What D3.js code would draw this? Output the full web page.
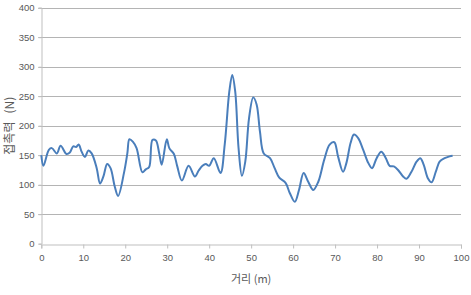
<!DOCTYPE html>
<html>
<head>
<meta charset="utf-8">
<script src="https://cdn.jsdelivr.net/npm/d3@7"></script>
<style>
  body { margin: 0; background: #fff; }
  svg text { fill: #595959; }
</style>
</head>
<body>
<svg id="chart" width="471" height="295"></svg>
<script>
'use strict';

// distance (m) and contact force (N)
const distance = [0, 0.5, 1.8, 2.5, 3.7, 4.6, 6.0, 6.8, 7.6, 8.3, 8.9, 9.6, 10.4, 11.2, 12.0,
  13.2, 14.0, 14.8, 15.7, 16.5, 17.5, 18.3, 19.7, 20.5, 21.0, 21.8, 22.7, 24.1, 24.9, 25.7,
  26.5, 27.3, 28.1, 28.7, 29.9, 30.5, 31.6, 32.4, 33.5, 35.1, 36.6, 37.5, 38.4, 39.2, 40.0,
  41.1, 42.7, 43.7, 44.8, 45.5, 46.2, 47.0, 47.8, 48.6, 49.5, 50.5, 51.3, 52.1, 53.0, 54.5,
  55.6, 56.7, 58.2, 59.2, 60.4, 61.4, 62.5, 63.6, 64.8, 66.0, 67.4, 68.7, 69.8, 70.7, 71.9,
  72.7, 73.7, 74.5, 75.5, 76.7, 77.9, 78.8, 79.9, 81.0, 82.1, 83.0, 84.0, 85.0, 86.2, 87.0,
  88.2, 89.4, 90.3, 91.1, 92.1, 93.0, 94.0, 94.9, 96.1, 97.3, 98.0]
const force = [150, 132, 159, 162, 153, 166, 152, 154.5, 165, 164, 168, 156, 147, 158, 153,
  128, 102, 114, 135, 128, 97, 81, 120, 153, 177, 173, 162, 121, 126, 130,
  176, 175, 153, 134, 177, 162, 152, 131, 107, 132, 114, 124, 132, 135, 132,
  145, 120, 168, 258, 286, 258, 162, 115, 139, 213, 248, 236, 190, 153, 145,
  128, 112, 103, 86, 71, 91, 120, 105, 91, 105, 142, 168, 172, 148, 122,
  137, 171, 185, 179, 159, 137, 128, 145, 156, 145, 132, 131, 125, 114, 110,
  122, 139, 145, 134, 111, 104, 122, 139, 145, 148, 149]

const xTicks = d3.range(0, 101, 10)
const yTicks = d3.range(0, 401, 50)
const xTitle = '거리 (m)'
const yTitle = '접촉력   (N)'

const margin = {left: 41.3, right: 10, top: 7.7, bottom: 51.3}
const svg    = d3.select('#chart')
const width  = +svg.attr('width')
const height = +svg.attr('height')

const x = d3.scaleLinear().domain([0, 100]).range([margin.left, width - margin.right])
const y = d3.scaleLinear().domain([0, 400]).range([height - margin.bottom, margin.top])

// gridlines
svg.append('g')
  .selectAll('line')
  .data(yTicks.filter((t) => t > 0))
  .enter()
  .append('line')
    .attr('x1', x(0) - 3)
    .attr('x2', x(100))
    .attr('y1', (t) => Math.round(y(t)) + 0.5)
    .attr('y2', (t) => Math.round(y(t)) + 0.5)
    .attr('stroke', '#b4b4b4')
    .attr('stroke-width', 1)

// y axis
const yAxis = svg.append('g')
  .attr('transform', `translate(${Math.round(x(0)) + 0.5},0)`)
  .call(d3.axisLeft(y).tickValues(yTicks).tickSize(3).tickPadding(4))
yAxis.select('.domain').attr('stroke', '#bfbfbf')
yAxis.selectAll('.tick line').attr('stroke', '#bfbfbf')
yAxis.selectAll('.tick text')
  .attr('fill', '#595959')
  .style('font', '9.5px "Liberation Sans", Arial, sans-serif')

// x axis
const xAxis = svg.append('g')
  .attr('transform', `translate(0,${Math.round(y(0)) + 0.5})`)
  .call(d3.axisBottom(x).tickValues(xTicks).tickSize(4).tickPadding(6))
xAxis.select('.domain').attr('stroke', '#bfbfbf')
xAxis.selectAll('.tick line').attr('stroke', '#bfbfbf')
xAxis.selectAll('.tick text')
  .attr('fill', '#595959')
  .style('font', '9.5px "Liberation Sans", Arial, sans-serif')

// axis titles
svg.append('text')
  .attr('x', (x(0) + x(100)) / 2)
  .attr('y', 283)
  .attr('text-anchor', 'middle')
  .style('font', '11px "Noto Sans CJK KR", sans-serif')
  .text(xTitle)

svg.append('text')
  .attr('transform', `translate(14,${(y(0) + y(400)) / 2}) rotate(-90)`)
  .attr('text-anchor', 'middle')
  .style('font', '12px "Noto Sans CJK KR", sans-serif')
  .style('white-space', 'pre')
  .text(yTitle)

// the force curve
const points = distance.map((d, i) => [d, force[i]])
const line = d3.line()
  .x((p) => x(p[0]))
  .y((p) => y(p[1]))
  .curve(d3.curveCatmullRom.alpha(0.5))

svg.append('path')
  .datum(points)
  .attr('fill', 'none')
  .attr('stroke', '#4a7ebb')
  .attr('stroke-width', 2)
  .attr('stroke-linejoin', 'round')
  .attr('d', line)
</script>
</body>
</html>
